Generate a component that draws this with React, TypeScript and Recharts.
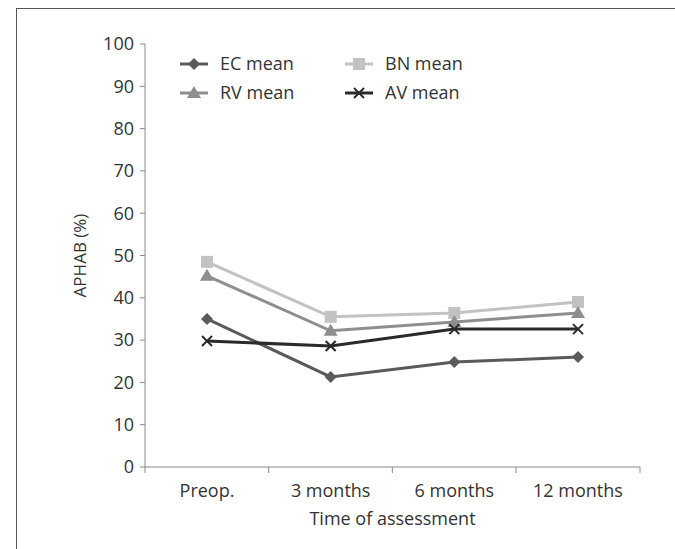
import React from "react";
import { LineChart, Line, XAxis, YAxis } from "recharts";

// valeurs
const categories = ["Preop.", "3 months", "6 months", "12 months"];
const ecMean = [35.0, 21.3, 24.8, 26.0];
const bnMean = [48.5, 35.5, 36.4, 39.0];
const rvMean = [45.2, 32.2, 34.3, 36.4];
const avMean = [29.8, 28.6, 32.6, 32.6];
const yTicks = [0, 10, 20, 30, 40, 50, 60, 70, 80, 90, 100];

const data = categories.map((name, i) => ({
  name,
  ec: ecMean[i],
  bn: bnMean[i],
  rv: rvMean[i],
  av: avMean[i],
}));

const FONT = "'Open Sans', 'DejaVu Sans', sans-serif";
const TEXT = "#333";
const AXIS = "#8a8a8a";
const HALF = 62;

const COLORS = { ec: "#5a5a5a", bn: "#c2c2c2", rv: "#8e8e8e", av: "#2a2a2a" };

function Marker({ kind, cx, cy, color }: any) {
  if (kind === "diamond")
    return (
      <polygon
        points={`${cx},${cy - 6} ${cx + 6},${cy} ${cx},${cy + 6} ${cx - 6},${cy}`}
        fill={color}
      />
    );
  if (kind === "square")
    return <rect x={cx - 6} y={cy - 6} width={12} height={12} fill={color} />;
  if (kind === "triangle")
    return (
      <polygon
        points={`${cx},${cy - 7} ${cx + 7},${cy + 5} ${cx - 7},${cy + 5}`}
        fill={color}
      />
    );
  return (
    <g stroke={color} strokeWidth={2}>
      <line x1={cx - 5} y1={cy - 5} x2={cx + 5} y2={cy + 5} />
      <line x1={cx - 5} y1={cy + 5} x2={cx + 5} y2={cy - 5} />
    </g>
  );
}

const makeDot = (kind: string, color: string) => (props: any) =>
  <Marker key={`${kind}-${props.index}`} kind={kind} cx={props.cx} cy={props.cy} color={color} />;

const series = [
  { key: "ec", label: "EC mean", kind: "diamond" },
  { key: "bn", label: "BN mean", kind: "square" },
  { key: "rv", label: "RV mean", kind: "triangle" },
  { key: "av", label: "AV mean", kind: "cross" },
];

function XTick(props: any) {
  const { x, y, payload, index } = props;
  return (
    <g>
      <line x1={x - HALF} y1={y} x2={x - HALF} y2={y + 6} stroke={AXIS} />
      {index === categories.length - 1 && (
        <line x1={x + HALF} y1={y} x2={x + HALF} y2={y + 6} stroke={AXIS} />
      )}
      <text x={x} y={y + 30} textAnchor="middle" fill={TEXT} fontSize={18} fontFamily={FONT}>
        {payload.value}
      </text>
    </g>
  );
}

function LegendBox() {
  return (
    <svg width={330} height={60}>
      {series.map((s, i) => {
        const col = i % 2;
        const row = Math.floor(i / 2);
        const x0 = col === 0 ? 10 : 175;
        const y0 = 12 + row * 29;
        const color = (COLORS as any)[s.key];
        return (
          <g key={s.key}>
            <line x1={x0} y1={y0} x2={x0 + 28} y2={y0} stroke={color} strokeWidth={3} />
            <Marker kind={s.kind} cx={x0 + 14} cy={y0} color={color} />
            <text x={x0 + 40} y={y0 + 6} fill={TEXT} fontSize={18} fontFamily={FONT}>
              {s.label}
            </text>
          </g>
        );
      })}
    </svg>
  );
}

export default function App() {
  return (
    <div style={{ position: "absolute", left: 0, top: 0, width: 675, height: 549, background: "#fff" }}>
      <div
        style={{
          position: "absolute",
          left: 16,
          top: 8,
          width: 675,
          height: 560,
          borderLeft: "1.5px solid #555",
          borderTop: "1.5px solid #555",
        }}
      />
      <div style={{ position: "absolute", left: 0, top: 0 }}>
        <LineChart width={675} height={549} data={data} margin={{ top: 44, right: 35, bottom: 22, left: 85 }}>
          <XAxis
            dataKey="name"
            padding={{ left: HALF, right: HALF }}
            stroke={AXIS}
            tickLine={false}
            tickSize={0}
            tickMargin={0}
            height={60}
            interval={0}
            tick={<XTick />}
            label={{
              value: "Time of assessment",
              position: "insideBottom",
              offset: 2,
              fill: TEXT,
              fontSize: 18,
              fontFamily: FONT,
            }}
          />
          <YAxis
            domain={[0, 100]}
            ticks={yTicks}
            interval={0}
            width={60}
            stroke={AXIS}
            tickSize={5}
            tickMargin={6}
            tick={{ fill: TEXT, fontSize: 18, fontFamily: FONT }}
            label={{
              content: ({ viewBox }: any) => (
                <text
                  x={86}
                  y={viewBox.y + viewBox.height / 2}
                  transform={`rotate(-90 86 ${viewBox.y + viewBox.height / 2})`}
                  textAnchor="middle"
                  fill={TEXT}
                  fontSize={17}
                  fontFamily={FONT}
                >
                  APHAB (%)
                </text>
              ),
            }}
          />
          {series.map((s) => (
            <Line
              key={s.key}
              dataKey={s.key}
              stroke={(COLORS as any)[s.key]}
              strokeWidth={3}
              dot={makeDot(s.kind, (COLORS as any)[s.key])}
              activeDot={false}
              isAnimationActive={false}
            />
          ))}
        </LineChart>
      </div>
      <div style={{ position: "absolute", left: 170, top: 52 }}>
        <LegendBox />
      </div>
    </div>
  );
}
